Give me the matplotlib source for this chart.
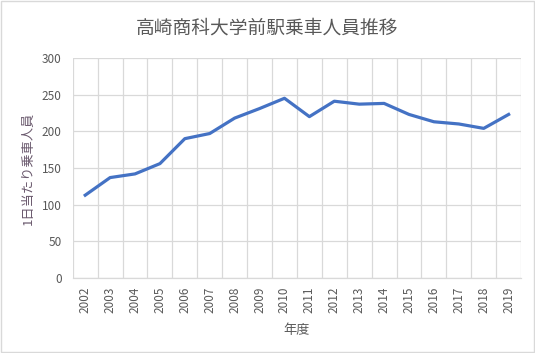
import matplotlib
matplotlib.use("Agg")
import matplotlib.pyplot as plt
from matplotlib.patches import Rectangle

plt.rcParams['font.family'] = ['Noto Sans CJK JP', 'DejaVu Sans']

# 高崎商科大学前駅 1日当たり乗車人員
years = ["2002", "2003", "2004", "2005", "2006", "2007", "2008", "2009", "2010",
         "2011", "2012", "2013", "2014", "2015", "2016", "2017", "2018", "2019"]
riders = [113, 137, 142, 156, 190, 197, 218, 231, 245,
          220, 241, 237, 238, 223, 213, 210, 204, 223]
yticks = [0, 50, 100, 150, 200, 250, 300]

text_color = "#595959"
grid_color = "#d9d9d9"

fig = plt.figure(figsize=(5.35, 3.53), dpi=100)
ax = fig.add_axes([0.136, 0.212, 0.838, 0.624])

x = list(range(len(years)))
ax.plot(x, riders, color="#4472c4", linewidth=2.3, solid_joinstyle="round")

ax.set_xlim(-0.5, len(years) - 0.5)
ax.set_ylim(0, 300)
ax.set_yticks(yticks)
ax.set_xticks(x)
ax.set_xticklabels(years, rotation=90)
# vertical gridlines sit between the categories, like Excel
ax.set_xticks([i - 0.5 for i in range(len(years) + 1)], minor=True)
ax.grid(axis="y", which="major", color=grid_color, linewidth=0.9)
ax.grid(axis="x", which="minor", color=grid_color, linewidth=0.9)
ax.set_axisbelow(True)

for side in ["top", "right", "left"]:
    ax.spines[side].set_visible(False)
ax.spines["bottom"].set_color(grid_color)
ax.spines["bottom"].set_linewidth(0.9)

ax.tick_params(axis="both", which="both", length=0, colors=text_color, labelsize=8.5)
ax.tick_params(axis="y", pad=8)
ax.tick_params(axis="x", pad=6)

# title is centred on the whole chart, not on the plot area
fig.text(0.5, 0.92, "高崎商科大学前駅乗車人員推移", fontsize=13.5, color=text_color,
         ha="center", va="center")
ax.set_xlabel("年度", fontsize=9.5, color=text_color, labelpad=8)
ax.set_ylabel("1日当たり乗車人員", fontsize=9.5, color="#6b5a6e", labelpad=5)

fig.patches.append(Rectangle((0.001, 0.002), 0.997, 0.995, transform=fig.transFigure,
                             fill=False, edgecolor="#d9d9d9", linewidth=1))

fig.savefig("out.png", dpi=100, facecolor="white")
